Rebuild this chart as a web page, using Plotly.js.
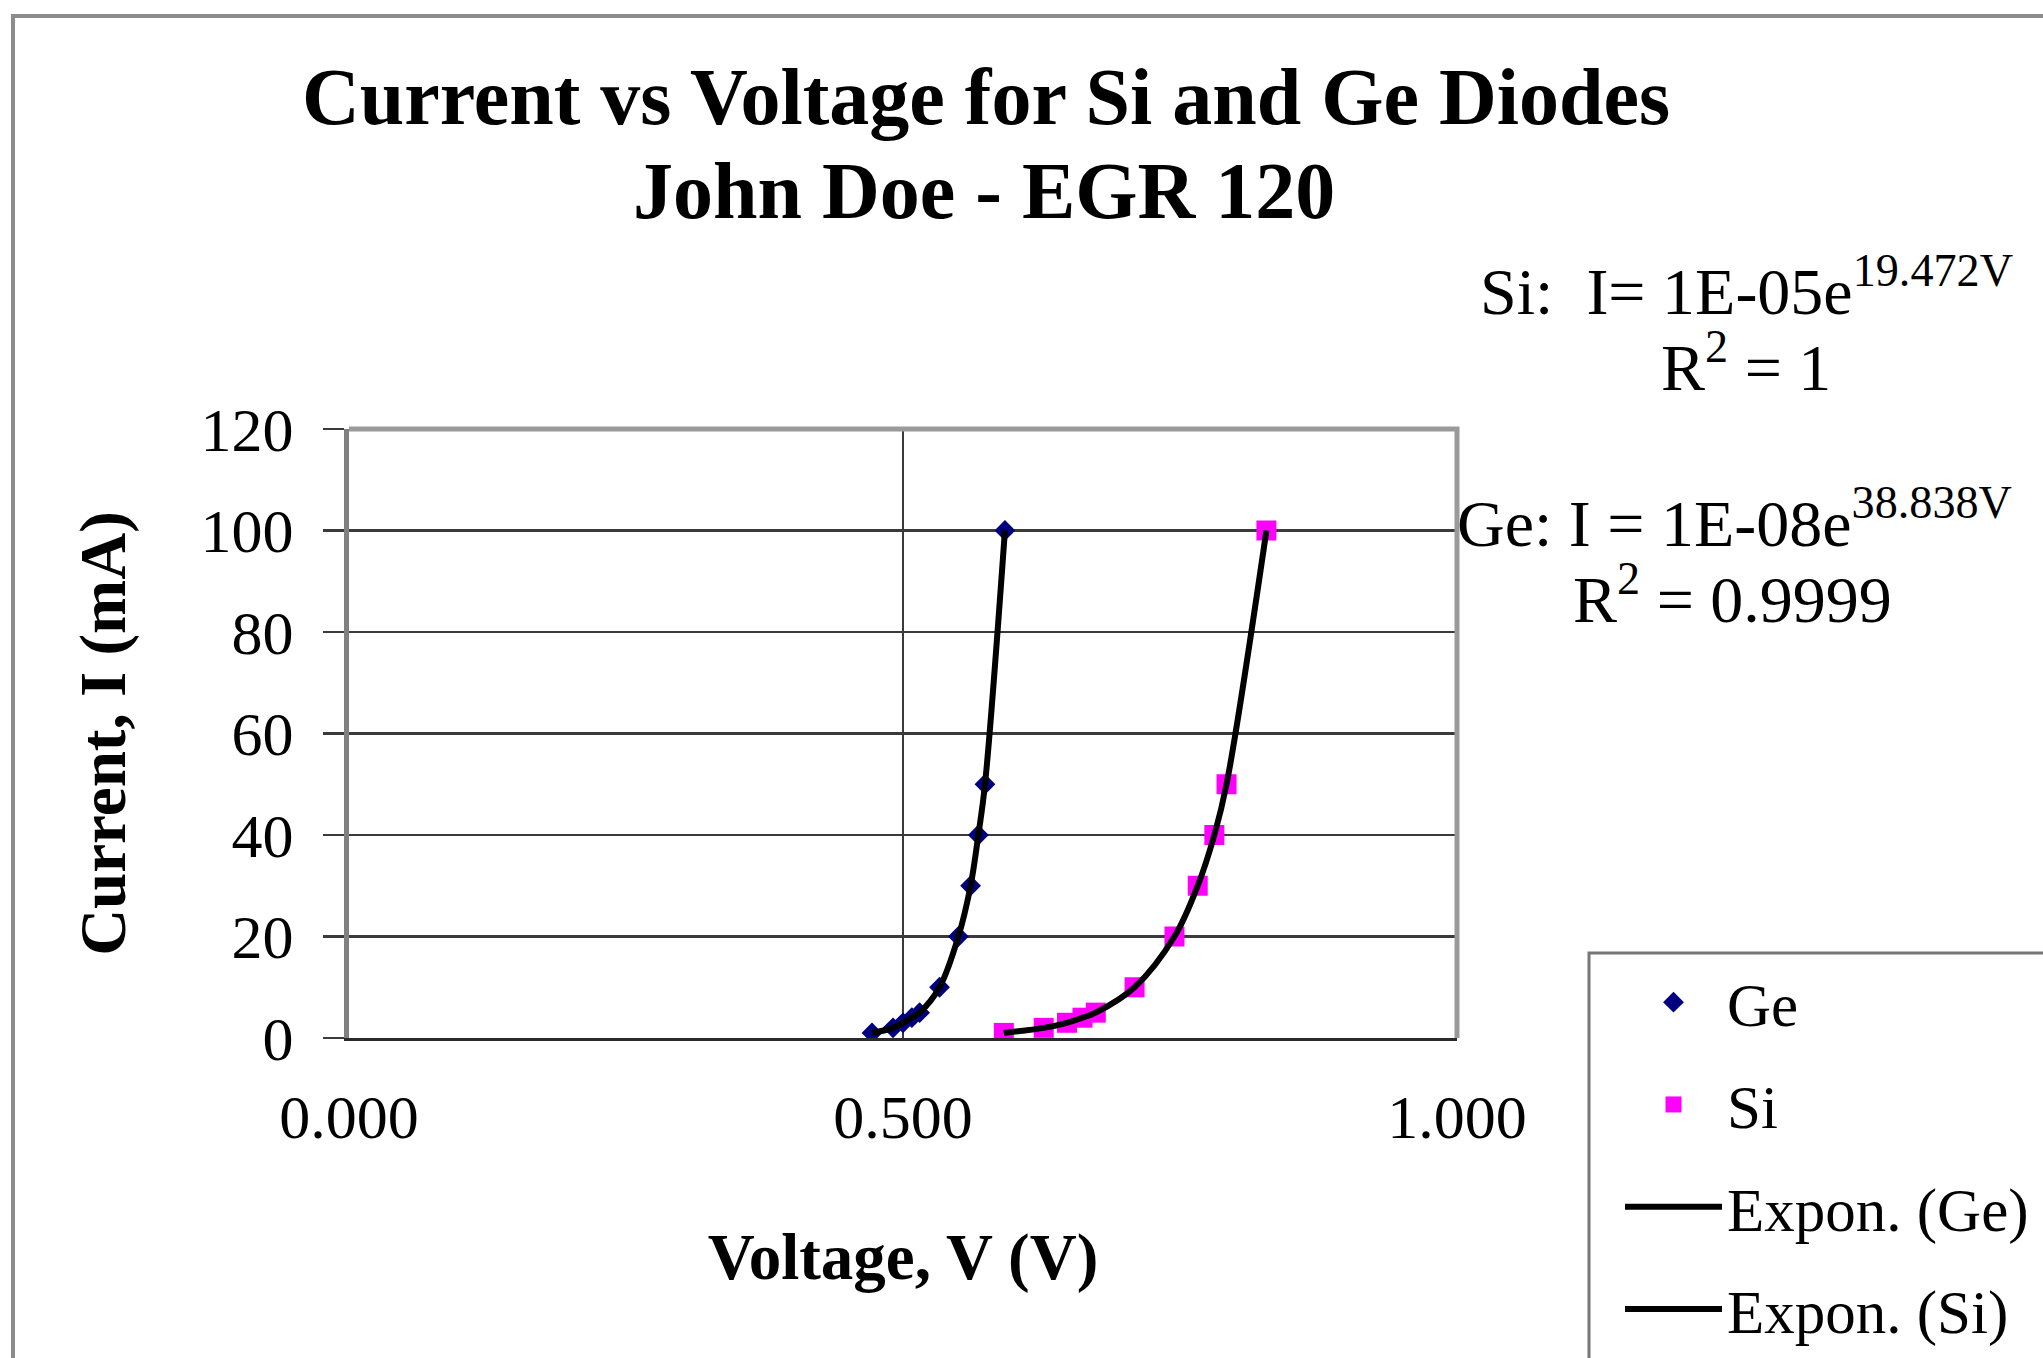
<!DOCTYPE html>
<html>
<head>
<meta charset="utf-8">
<script src="https://cdn.plot.ly/plotly-3.0.1.min.js"></script>
<style>html,body{margin:0;padding:0;background:#fff;}#chart{width:2043px;height:1358px;}</style>
</head>
<body>
<div id="chart"></div>
<script>
// ---- data ----
const geVoltage = [0.472, 0.491, 0.500, 0.508, 0.515, 0.533, 0.550, 0.561, 0.568, 0.574, 0.592];
const geCurrent = [1, 2, 3, 4, 5, 10, 20, 30, 40, 50, 100];
const siVoltage = [0.591, 0.627, 0.648, 0.662, 0.674, 0.709, 0.745, 0.766, 0.781, 0.792, 0.828];
const siCurrent = [1, 2, 3, 4, 5, 10, 20, 30, 40, 50, 100];
const seriesNames = ['Ge', 'Si', 'Expon. (Ge)', 'Expon. (Si)'];
const xTickValues = [0, 0.5, 1.0];
const yTickValues = [0, 20, 40, 60, 80, 100, 120];
const titleLine1 = 'Current vs Voltage for Si and Ge Diodes';
const titleLine2 = 'John Doe - EGR 120';
const siEquationLines = ['Si:  I= 1E-05e<sup>19.472V</sup>', 'R<sup>2</sup> = 1'];
const geEquationLines = ['Ge: I = 1E-08e<sup>38.838V</sup>', 'R<sup>2</sup> = 0.9999'];

// ---- layout geometry ----
const W = 2043, H = 1358;
const L = 349, R = 1457, T = 429, B = 1038;
const px2x = p => (p - L) / (R - L);
const py2y = p => (B - p) / (B - T);
const FONT = 'Liberation Serif, Times New Roman, serif';

const traces = [
  {x: geVoltage, y: geCurrent, name: seriesNames[0], mode: 'markers', type: 'scatter',
   legendgroup: 'g1',
   marker: {symbol: 'diamond', size: 16, color: '#000080'}},
  {x: siVoltage, y: siCurrent, name: seriesNames[1], mode: 'markers', type: 'scatter',
   legendgroup: 'g2',
   marker: {symbol: 'square', size: 20, color: '#FF00FF'}},
  {x: geVoltage, y: geCurrent, name: seriesNames[2], mode: 'lines', type: 'scatter',
   legendgroup: 'g3',
   line: {color: '#000000', width: 6, shape: 'spline', smoothing: 1}},
  {x: siVoltage, y: siCurrent, name: seriesNames[3], mode: 'lines', type: 'scatter',
   legendgroup: 'g4',
   line: {color: '#000000', width: 6, shape: 'spline', smoothing: 1}}
];

const eqFont = {family: FONT, size: 66, color: '#000000'};
const eqAnn = (text, xc, yc) => ({text: text, xref: 'paper', yref: 'paper',
  x: px2x(xc), y: py2y(yc), xanchor: 'center', yanchor: 'middle',
  align: 'center', showarrow: false, font: eqFont});

const layout = {
  width: W, height: H,
  margin: {l: L, r: W - R, t: T, b: H - B, autoexpand: false},
  paper_bgcolor: '#ffffff', plot_bgcolor: '#ffffff',
  font: {family: FONT, color: '#000000'},
  showlegend: true,
  title: {
    text: titleLine1,
    font: {family: FONT, size: 80, weight: 'bold', color: '#000000'},
    xref: 'paper', x: px2x(986), xanchor: 'center',
    yref: 'container', y: 1 - 68 / H, yanchor: 'top'
  },
  xaxis: {
    range: [0, 1], tickvals: xTickValues, tickformat: '.3f',
    showgrid: true, gridcolor: '#3a3a3a', gridwidth: 2.5,
    zeroline: false, showline: true, linecolor: '#2a2a2a', linewidth: 3,
    ticks: '', ticklabelstandoff: 23,
    tickfont: {family: FONT, size: 62, color: '#000000'},
    title: {text: 'Voltage, V (V)', standoff: 84,
            font: {family: FONT, size: 65, weight: 'bold', color: '#000000'}},
    fixedrange: true
  },
  yaxis: {
    range: [0, 120], tickvals: yTickValues,
    showgrid: true, gridcolor: '#3a3a3a', gridwidth: 2.5,
    zeroline: false, showline: true, linecolor: '#808080', linewidth: 5,
    ticks: 'outside', ticklen: 21, tickwidth: 2.5, tickcolor: '#3a3a3a',
    ticklabelstandoff: 17,
    tickfont: {family: FONT, size: 62, color: '#000000'},
    title: {text: 'Current, I (mA)', standoff: 55,
            font: {family: FONT, size: 65, weight: 'bold', color: '#000000'}},
    fixedrange: true
  },
  legend: {
    x: px2x(1620), xanchor: 'left', xref: 'paper',
    y: py2y(956), yanchor: 'top', yref: 'paper',
    bgcolor: 'rgba(0,0,0,0)', borderwidth: 0,
    font: {family: FONT, size: 61, color: '#000000'},
    itemwidth: 97, traceorder: 'grouped', tracegroupgap: 20
  },
  shapes: [
    // outer chart border (cropped at right and bottom)
    {type: 'rect', xref: 'paper', yref: 'paper',
     x0: px2x(13), x1: px2x(2120), y0: py2y(1420), y1: py2y(16),
     line: {color: '#8c8c8c', width: 4}, layer: 'below'},
    // plot area border top and right
    {type: 'path', xref: 'paper', yref: 'paper', path: 'M 0,1 L 1,1 L 1,0',
     line: {color: '#9a9a9a', width: 5}, layer: 'above'},
    // legend box (cropped at right and bottom)
    {type: 'rect', xref: 'paper', yref: 'paper',
     x0: px2x(1589), x1: px2x(2120), y0: py2y(1420), y1: py2y(953),
     line: {color: '#777777', width: 3}, layer: 'below'}
  ],
  annotations: [
    {text: titleLine2, xref: 'paper', yref: 'paper', x: px2x(984), y: py2y(191),
     xanchor: 'center', yanchor: 'middle', showarrow: false,
     font: {family: FONT, size: 80, weight: 'bold', color: '#000000'}},
    eqAnn(siEquationLines[0], 1746, 286),
    eqAnn(siEquationLines[1], 1746, 362),
    eqAnn(geEquationLines[0], 1734, 518),
    eqAnn(geEquationLines[1], 1732, 594)
  ]
};

Plotly.newPlot('chart', traces, layout, {displayModeBar: false, staticPlot: true});
</script>
</body>
</html>
